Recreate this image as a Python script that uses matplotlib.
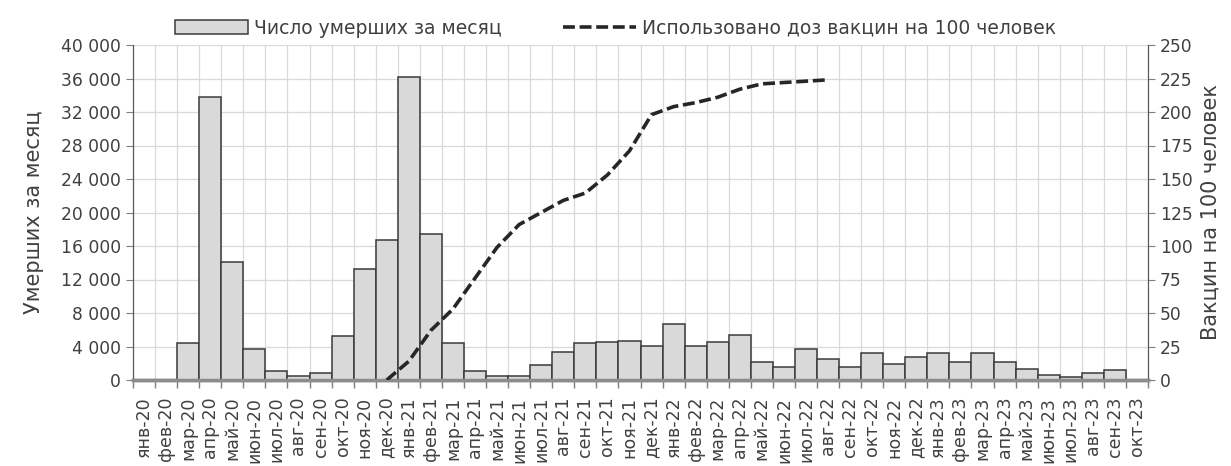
import matplotlib
matplotlib.use("Agg")
import numpy as np
import matplotlib.pyplot as plt
from matplotlib.patches import Patch
from matplotlib.lines import Line2D
from matplotlib.ticker import FuncFormatter, FixedLocator

# monthly data, Jan 2020 .. Oct 2023
months = ["янв", "фев", "мар", "апр", "май", "июн",
          "июл", "авг", "сен", "окт", "ноя", "дек"]
years = ["20", "21", "22", "23"]
labels = [f"{m}-{y}" for y in years for m in months][:46]

deaths = [0, 0, 4400, 33800, 14100, 3700, 1100, 500, 850, 5250, 13240, 16760,
          36160, 17480, 4450, 1130, 450, 450, 1800, 3350, 4360, 4480, 4680, 4050,
          6700, 4080, 4480, 5400, 2200, 1560, 3760, 2480, 1520, 3200, 1880, 2800,
          3200, 2200, 3200, 2200, 1280, 600, 320, 880, 1200, 0]

# doses per 100 people, Dec 2020 .. Aug 2022
vacc_start = 11
vaccine = [0, 14, 37, 53, 76, 99, 116, 125, 134, 139.5, 153, 171, 198,
           204, 207, 211, 217, 221, 222, 223, 224]

plt.rcParams["font.family"] = "DejaVu Sans"
text_col = "#404040"
dash = (0, (3.3, 1.3))

fig = plt.figure(figsize=(12.31, 4.66), dpi=100)
ax = fig.add_axes([133 / 1231, 1 - 380 / 466, (1148 - 133) / 1231, (380 - 45) / 466])
ax2 = ax.twinx()

x = np.arange(len(labels))
ax.bar(x, deaths, width=1.0, color="#d9d9d9", edgecolor="#3a3a3a",
       linewidth=1.1, zorder=3)

xv = np.arange(vacc_start, vacc_start + len(vaccine))
ax2.plot(xv, vaccine, color="#262626", linestyle=dash,
         linewidth=2.6, zorder=4)

ax.set_xlim(-0.5, len(labels) - 0.5)
ax.set_ylim(0, 40000)
ax2.set_ylim(0, 250)

ax.set_yticks(np.arange(0, 40001, 4000))
ax.yaxis.set_major_formatter(FuncFormatter(lambda v, p: f"{int(v):,}".replace(",", " ")))
ax2.set_yticks(np.arange(0, 251, 25))

ax.set_xticks(x)
ax.set_xticklabels(labels, rotation=90, fontsize=12.5, color=text_col)
ax.xaxis.set_minor_locator(FixedLocator(np.arange(-0.5, len(labels), 1)))
ax.tick_params(axis="x", which="major", length=0, pad=12)
ax.tick_params(axis="x", which="minor", length=6, color="#7f7f7f", width=1)

ax.tick_params(axis="y", labelsize=12.3, labelcolor=text_col, length=5,
               color="#7f7f7f")
ax2.tick_params(axis="y", labelsize=12.3, labelcolor=text_col, length=5,
                color="#7f7f7f")

ax.grid(True, which="minor", axis="x", color="#d9d9d9", linewidth=0.9, zorder=0)
ax.grid(True, which="major", axis="y", color="#d9d9d9", linewidth=0.9, zorder=0)
ax.set_axisbelow(True)

for a in (ax, ax2):
    a.spines["top"].set_visible(False)
    a.spines["left"].set_color("#595959")
    a.spines["right"].set_color("#595959")
    a.spines["bottom"].set_color("#8c8c8c")
    a.spines["bottom"].set_linewidth(2.5)

ax.set_ylabel("Умерших за месяц", fontsize=15, color=text_col, labelpad=12)
ax2.set_ylabel("Вакцин на 100 человек", fontsize=15, color=text_col, labelpad=6)

handles = [
    Patch(facecolor="#d9d9d9", edgecolor="#3a3a3a", linewidth=1.1),
    Line2D([0], [0], color="#262626", linestyle=dash, linewidth=2.6),
]
fig.legend(handles, ["Число умерших за месяц", "Использовано доз вакцин на 100 человек"],
           loc="center", bbox_to_anchor=(0.5, 1 - 28 / 466), ncol=2, frameon=False,
           fontsize=13.5, handlelength=3.9, handleheight=0.75, handletextpad=0.3,
           columnspacing=3.3, labelcolor=text_col)

fig.savefig("out.png", dpi=100)
